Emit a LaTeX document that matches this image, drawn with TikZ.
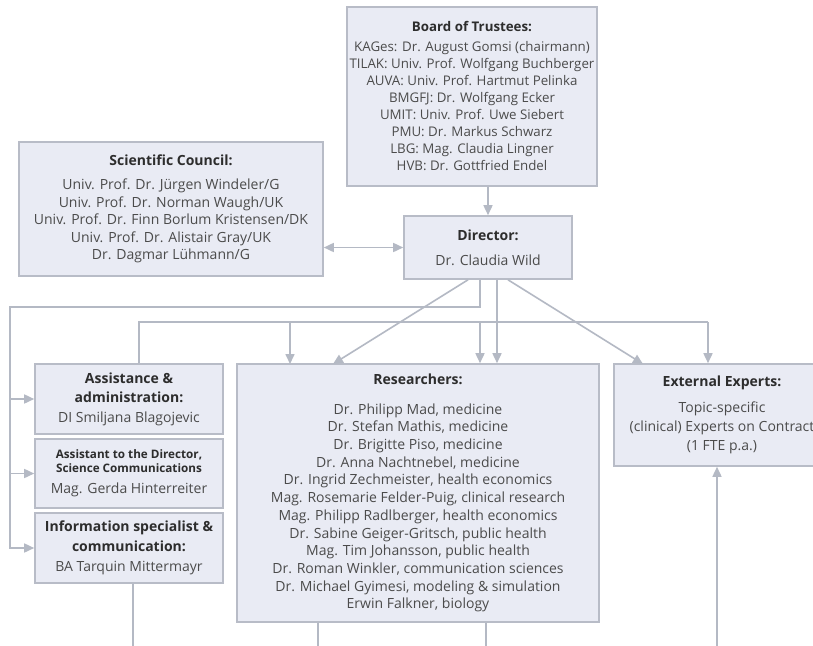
\documentclass[tikz,border=0pt]{standalone}
\usepackage{fontspec}
\setmainfont{Open Sans}
\usetikzlibrary{arrows.meta,calc}
\definecolor{boxfill}{RGB}{233,235,244}
\definecolor{boxdraw}{RGB}{184,188,199}
\definecolor{linecol}{RGB}{180,185,196}
\definecolor{titlecol}{RGB}{45,45,45}
\definecolor{bodycol}{RGB}{75,75,75}
\tikzset{
 orgbox/.style={draw=boxdraw, line width=1.6pt, fill=boxfill, align=center, inner sep=0pt, text=bodycol, font=\fontsize{14}{17.5}\selectfont},
 conn/.style={draw=linecol, line width=1.6pt},
 arr/.style={conn, -{Triangle[length=10pt,width=9pt]}},
 darr/.style={conn, {Triangle[length=10pt,width=9pt]}-{Triangle[length=10pt,width=9pt]}},
}
\newcommand\ttl[1]{\textcolor{titlecol}{\bfseries #1}}
\newcommand\ttls[1]{\textcolor{titlecol}{\fontsize{11.7}{14}\selectfont\bfseries #1}}
\begin{document}
\begin{tikzpicture}[x=1pt,y=-1pt]
\clip (0,0) rectangle (813,645);
\fill[white] (0,0) rectangle (813,645);

\node[orgbox, minimum width=250, minimum height=179, font=\fontsize{13.3}{17}\selectfont] (bot) at (472,96.5) {\ttl{Board of Trustees:}\\[3pt]
KAGes: Dr. August Gomsi (chairmann)\\
TILAK: Univ. Prof. Wolfgang Buchberger\\
AUVA: Univ. Prof. Hartmut Pelinka\\
BMGFJ: Dr. Wolfgang Ecker\\
UMIT: Univ. Prof. Uwe Siebert\\
PMU: Dr. Markus Schwarz\\
LBG: Mag. Claudia Lingner\\
HVB: Dr. Gottfried Endel};

\node[orgbox, minimum width=304, minimum height=134] (sci) at (171,209) {\ttl{Scientific Council:}\\[6.5pt]
Univ. Prof. Dr. Jürgen Windeler/G\\
Univ. Prof. Dr. Norman Waugh/UK\\
Univ. Prof. Dr. Finn Borlum Kristensen/DK\\
Univ. Prof. Dr. Alistair Gray/UK\\
Dr. Dagmar Lühmann/G};

\node[orgbox, minimum width=168, minimum height=63] (dir) at (488,247.5) {\ttl{Director:}\\[7.5pt]
Dr. Claudia Wild};

\node[orgbox, minimum width=188, minimum height=70, font=\fontsize{14}{19.5}\selectfont] (asst) at (129,399) {\ttl{Assistance \&}\\
\ttl{administration:}\\
DI Smiljana Blagojevic};

\node[orgbox, minimum width=188, minimum height=69, font=\fontsize{11.7}{14}\selectfont] (dirasst) at (129,473.5) {\ttls{Assistant to the Director,}\\
\ttls{Science Communications}\\[7pt]
{\fontsize{14}{17}\selectfont Mag. Gerda Hinterreiter}};

\node[orgbox, minimum width=188, minimum height=70, font=\fontsize{14}{20}\selectfont] (info) at (129,548) {\ttl{Information specialist \&}\\
\ttl{communication:}\\
BA Tarquin Mittermayr};

\node[orgbox, minimum width=362, minimum height=258, font=\fontsize{14}{17.7}\selectfont] (res) at (418,493) {\ttl{Researchers:}\\[12pt]
Dr. Philipp Mad, medicine\\
Dr. Stefan Mathis, medicine\\
Dr. Brigitte Piso, medicine\\
Dr. Anna Nachtnebel, medicine\\
Dr. Ingrid Zechmeister, health economics\\
Mag. Rosemarie Felder-Puig, clinical research\\
Mag. Philipp Radlberger, health economics\\
Dr. Sabine Geiger-Gritsch, public health\\
Mag. Tim Johansson, public health\\
Dr. Roman Winkler, communication sciences\\
Dr. Michael Gyimesi, modeling \& simulation\\
Erwin Falkner, biology};

\node[orgbox, minimum width=216, minimum height=102, font=\fontsize{14}{19}\selectfont] (ext) at (722,415) {\ttl{External Experts:}\\[7pt]
Topic-specific\\
(clinical) Experts on Contract\\
(1 FTE p.a.)};

% coordinates
\coordinate (busa) at (10,307);
\coordinate (busb) at (139,322);
\coordinate (busbr) at (708,322);
\coordinate (d1) at ($(dir.south)+(-20,0)$);
\coordinate (d2) at ($(dir.south)+(-8,0)$);
\coordinate (d3) at ($(dir.south)+(9,0)$);
\coordinate (d4) at ($(dir.south)+(20,0)$);
\coordinate (rA) at (290,364);
\coordinate (rB) at (333,364);
\coordinate (eA) at (643,364);
\coordinate (o1) at (133,650);
\coordinate (o2) at (318,650);
\coordinate (o3) at (486,650);
\coordinate (o4) at (717,650);

% connectors
\draw[arr] (bot.south -| dir.north) -- (dir.north);
\draw[darr] (sci.east |- dir.west) -- (dir.west);

\draw[conn] (d2) |- (busa) -- (busa |- info.west);
\draw[arr] (busa) |- (asst.west);
\draw[arr] (busa) |- (dirasst.west);
\draw[arr] (busa) |- (info.west);

\draw[conn] (asst.north -| busb) -- (busb) -- (busbr);
\draw[arr] (busbr) -- (busbr |- ext.north);
\draw[arr] (busb -| rA) -- (rA);
\draw[arr] (busb -| d2) -- (d2 |- res.north);
\draw[arr] (d3) -- (d3 |- res.north);
\draw[arr] (d1) -- (rB);
\draw[arr] (d4) -- (eA);

\draw[conn] (info.south -| o1) -- (o1);
\draw[conn] (res.south -| o2) -- (o2);
\draw[conn] (res.south -| o3) -- (o3);
\draw[arr] (o4) -- (o4 |- ext.south);
\end{tikzpicture}
\end{document}
